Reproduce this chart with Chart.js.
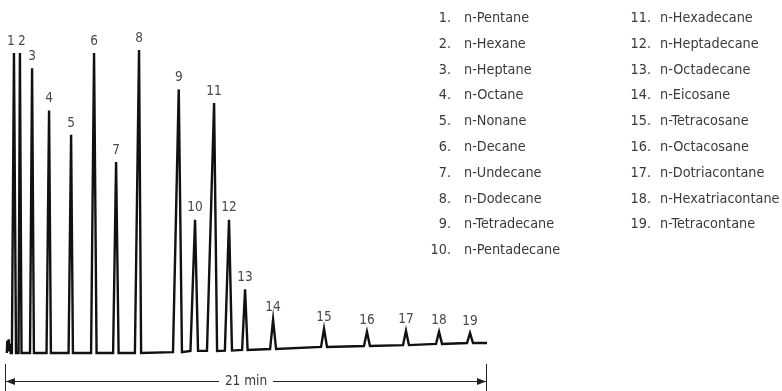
<!DOCTYPE html>
<html>
<head>
<meta charset="utf-8">
<script src="https://cdn.jsdelivr.net/npm/chart.js@4"></script>
<style>
  html, body { margin: 0; padding: 0; background: #fff; }
  #wrap { position: relative; width: 782px; height: 391px; }
  #chromChart { position: absolute; left: 0; top: 0; }
  .leg { position: absolute; font-family: "Liberation Sans Narrow", "DejaVu Sans Condensed", sans-serif;
         font-size: 14.3px; color: #3a3a3a; line-height: 18px; white-space: nowrap; }
  .num { text-align: right; width: 30px; }
</style>
</head>
<body>
<div id="wrap">
  <canvas id="chromChart" width="782" height="391"></canvas>
  <div id="legend"></div>
</div>
<script>
// peak numbers and compound names
const peakLabels = ['1','2','3','4','5','6','7','8','9','10','11','12','13','14','15','16','17','18','19'];
const compounds = ['n-Pentane','n-Hexane','n-Heptane','n-Octane','n-Nonane','n-Decane','n-Undecane',
  'n-Dodecane','n-Tetradecane','n-Pentadecane','n-Hexadecane','n-Heptadecane','n-Octadecane',
  'n-Eicosane','n-Tetracosane','n-Octacosane','n-Dotriacontane','n-Hexatriacontane','n-Tetracontane'];
// retention (min): foot before, apex, foot after
const peakStart = [0.30,0.59,1.09,1.81,2.77,3.75,4.71,5.66,7.32,8.08,8.80,9.58,10.33,11.55,13.77,15.64,17.34,18.78,20.13];
const peakTime  = [0.39,0.65,1.18,1.92,2.88,3.88,4.84,5.84,7.57,8.28,9.11,9.76,10.46,11.68,13.90,15.77,17.47,18.91,20.26];
const peakEnd   = [0.48,0.72,1.26,2.00,2.96,3.99,4.95,5.93,7.71,8.41,9.24,9.89,10.57,11.81,14.03,15.90,17.60,19.04,20.39];
// detector response (relative) at apex and baseline under each peak
const peakHeight = [99,99,94,80,72,99,63,100,87,44,82.5,44,21,11,8,7,7.3,7,6.6];
const peakBase   = [0,0,0,0,0,0,0,0,0.3,0.7,0.7,0.8,1,1.3,2,2.3,2.6,3,3.3];
// solvent front wiggle at the start, and end of run
const frontTime   = [0.08,0.10,0.13,0.16,0.19,0.22,0.25];
const frontSignal = [0,4,1,4.5,0.5,3,0];
const runEnd = 21;
const runEndSignal = 3.3;

function initializeChart() {
  const trace = [];
  frontTime.forEach((t, i) => trace.push({ x: t, y: frontSignal[i] }));
  peakTime.forEach((t, i) => {
    trace.push({ x: peakStart[i], y: peakBase[i] });
    trace.push({ x: t, y: peakHeight[i] });
    trace.push({ x: peakEnd[i], y: peakBase[i] });
  });
  trace.push({ x: runEnd, y: runEndSignal });

  // little nudges so labels 1 and 2 do not overlap
  const labelNudge = { 0: -3, 1: 2 };

  const peakNumbers = {
    id: 'peakNumbers',
    afterDatasetsDraw(chart) {
      const { ctx, scales: { x, y } } = chart;
      ctx.save();
      ctx.fillStyle = '#4a4a4a';
      ctx.font = '13.5px "Liberation Sans Narrow", "DejaVu Sans Condensed", sans-serif';
      ctx.textAlign = 'center';
      ctx.textBaseline = 'bottom';
      peakLabels.forEach((lab, i) => {
        const px = x.getPixelForValue(peakTime[i]) + (labelNudge[i] || 0);
        const py = y.getPixelForValue(peakHeight[i]) - 5;
        ctx.fillText(lab, px, py);
      });
      ctx.restore();
    }
  };

  const runArrow = {
    id: 'runArrow',
    afterDraw(chart) {
      const { ctx, scales: { x } } = chart;
      const x0 = x.getPixelForValue(0), x1 = x.getPixelForValue(runEnd);
      const yy = 381.5, mid = (x0 + x1) / 2;
      ctx.save();
      ctx.strokeStyle = '#222';
      ctx.fillStyle = '#222';
      ctx.lineWidth = 1;
      ctx.beginPath();
      ctx.moveTo(x0 + 0.5, 364); ctx.lineTo(x0 + 0.5, 391);
      ctx.moveTo(x1 - 0.5, 364); ctx.lineTo(x1 - 0.5, 391);
      ctx.moveTo(x0 + 1, yy); ctx.lineTo(mid - 27, yy);
      ctx.moveTo(mid + 27, yy); ctx.lineTo(x1 - 1, yy);
      ctx.stroke();
      ctx.beginPath();
      ctx.moveTo(x0 + 1, yy); ctx.lineTo(x0 + 10, yy - 3.5); ctx.lineTo(x0 + 10, yy + 3.5); ctx.closePath();
      ctx.moveTo(x1 - 1, yy); ctx.lineTo(x1 - 10, yy - 3.5); ctx.lineTo(x1 - 10, yy + 3.5); ctx.closePath();
      ctx.fill();
      ctx.font = '13.5px "Liberation Sans Narrow", "DejaVu Sans Condensed", sans-serif';
      ctx.fillStyle = '#3a3a3a';
      ctx.textAlign = 'center';
      ctx.textBaseline = 'middle';
      ctx.fillText(runEnd + ' min', mid, yy);
      ctx.restore();
    }
  };

  new Chart(document.getElementById('chromChart').getContext('2d'), {
    type: 'line',
    data: {
      datasets: [{
        data: trace,
        borderColor: '#111',
        borderWidth: 2.4,
        pointRadius: 0,
        tension: 0,
        fill: false,
        clip: false
      }]
    },
    options: {
      responsive: false,
      animation: false,
      layout: { padding: { left: 5, right: 295, top: 50, bottom: 38 } },
      scales: {
        x: { type: 'linear', min: 0, max: runEnd, display: false },
        y: { min: 0, max: 100, display: false }
      },
      plugins: { legend: { display: false }, tooltip: { enabled: false } }
    },
    plugins: [peakNumbers, runArrow]
  });

  // compound key, two columns
  const legend = document.getElementById('legend');
  compounds.forEach((name, i) => {
    const col = i < 10 ? 0 : 1;
    const row = i < 10 ? i : i - 10;
    const top = 8 + row * 25.8;
    const numRight = col === 0 ? 451 : 651;
    const nameLeft = col === 0 ? 464 : 660;
    const n = document.createElement('div');
    n.className = 'leg num';
    n.style.left = (numRight - 30) + 'px';
    n.style.top = top + 'px';
    n.textContent = peakLabels[i] + '.';
    const t = document.createElement('div');
    t.className = 'leg';
    t.style.left = nameLeft + 'px';
    t.style.top = top + 'px';
    t.textContent = name;
    legend.appendChild(n);
    legend.appendChild(t);
  });
}

if (document.readyState === 'loading') {
  document.addEventListener('DOMContentLoaded', initializeChart);
} else {
  initializeChart();
}
</script>
</body>
</html>
